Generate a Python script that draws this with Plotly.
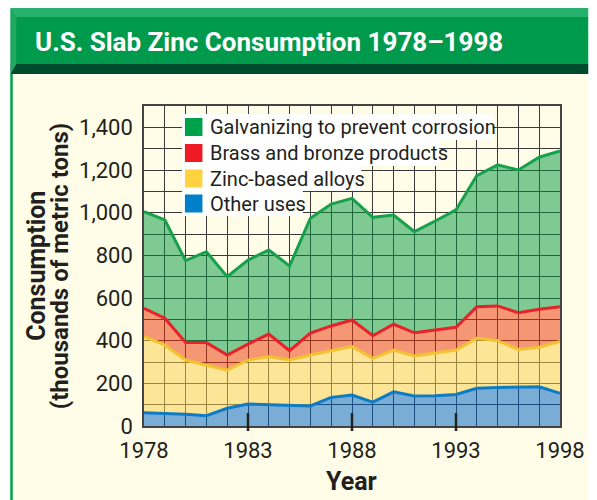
import plotly.graph_objects as go

years = list(range(1978, 1999))
other_uses = [62, 59, 55, 48, 83, 103, 100, 95, 94, 134, 145, 112, 160, 141, 142, 148, 177, 181, 184, 184, 153]
zinc_alloys = [357, 321, 254, 238, 179, 206, 225, 214, 239, 219, 227, 205, 196, 187, 199, 208, 234, 219, 175, 185, 243]
brass_bronze = [133, 125, 82, 105, 71, 75, 106, 44, 102, 116, 125, 106, 121, 109, 109, 107, 148, 163, 172, 178, 163]
galvanizing = [453, 461, 384, 426, 367, 394, 394, 397, 539, 571, 570, 555, 512, 474, 511, 550, 615, 661, 669, 713, 730]

x_tick_years = [1978, 1983, 1988, 1993, 1998]
y_tick_vals = [0, 200, 400, 600, 800, 1000, 1200, 1400]
legend_labels = ["Galvanizing to prevent corrosion", "Brass and bronze products",
                 "Zinc-based alloys", "Other uses"]

W, H = 597, 500
L, R, T, B = 144, 26, 106, 74
PW, PH = W - L - R, H - T - B

def px(xp):
    return (xp - L) / PW

def py(yp):
    return (H - B - yp) / PH

TXT = "#231F20"
FONT = "Roboto, Liberation Sans, sans-serif"

series = [
    ("Other uses", other_uses, "#0E7CC4", "rgba(0,100,195,0.52)"),
    ("Zinc-based alloys", zinc_alloys, "#F2C233", "rgba(252,205,70,0.5)"),
    ("Brass and bronze products", brass_bronze, "#E8222A", "rgba(235,50,0,0.5)"),
    ("Galvanizing to prevent corrosion", galvanizing, "#16A04C", "rgba(0,150,60,0.5)"),
]

fig = go.Figure()
for name, vals, lc, fc in series:
    fig.add_trace(go.Scatter(x=years, y=vals, name=name, mode="lines", stackgroup="one",
                             line=dict(color=lc, width=3), fillcolor=fc, showlegend=False))

shapes = []
shapes.append(dict(type="rect", xref="paper", yref="paper", x0=px(7), x1=px(600), y0=py(74), y1=py(500),
                   fillcolor="#FFFDE8", line=dict(width=0), layer="below"))
shapes.append(dict(type="rect", xref="paper", yref="paper", x0=px(7), x1=px(600), y0=py(17), y1=py(8),
                   fillcolor="#26B16C", line=dict(width=0), layer="below"))
shapes.append(dict(type="rect", xref="paper", yref="paper", x0=px(7), x1=px(600), y0=py(64), y1=py(17),
                   fillcolor="#009A4D", line=dict(width=0), layer="below"))
shapes.append(dict(type="rect", xref="paper", yref="paper", x0=px(7), x1=px(600), y0=py(74), y1=py(64),
                   fillcolor="#004A2E", line=dict(width=0), layer="below"))
shapes.append(dict(type="path", xref="paper", yref="paper",
                   path=f"M {px(7)},{py(8)} L {px(13)},{py(17)} L {px(13)},{py(64)} L {px(7)},{py(74)} Z",
                   fillcolor="#1FA862", line=dict(width=0), layer="below"))
shapes.append(dict(type="line", xref="paper", yref="paper", x0=px(8), x1=px(8), y0=py(74), y1=py(500),
                   line=dict(color="#00A14B", width=2.5), layer="below"))
for yr in [1983, 1988, 1993]:
    shapes.append(dict(type="line", xref="x", yref="paper", x0=yr, x1=yr, y0=py(431), y1=py(413),
                       line=dict(color="#222222", width=2.5), layer="above"))

row_tops = [114, 140, 166, 191]
row_h = [26, 26, 25, 25]
box_right = [502, 447, 367, 307]
sw_colors = ["#00A14B", "#ED1C24", "#FFD23F", "#0080C8"]
annotations = []
for i, lab in enumerate(legend_labels):
    y0, y1 = row_tops[i], row_tops[i] + row_h[i]
    shapes.append(dict(type="rect", xref="paper", yref="paper", x0=px(183), x1=px(box_right[i]),
                       y0=py(y1), y1=py(y0), fillcolor="white", line=dict(width=0), layer="above"))
    cy = (y0 + y1) / 2
    shapes.append(dict(type="rect", xref="paper", yref="paper", x0=px(186), x1=px(204),
                       y0=py(cy + 9), y1=py(cy - 9), fillcolor=sw_colors[i], line=dict(width=0), layer="above"))
    annotations.append(dict(text=lab, xref="paper", yref="paper", x=px(210), y=py(cy), xanchor="left",
                            yanchor="middle", showarrow=False, font=dict(family=FONT, size=20, color=TXT)))

annotations.append(dict(text="<b>U.S. Slab Zinc Consumption 1978\u20131998</b>", xref="paper", yref="paper",
                        x=px(272), y=py(42), xanchor="center", yanchor="middle", showarrow=False,
                        font=dict(family=FONT, size=26, color="white")))
annotations.append(dict(text="<b>Consumption</b>", xref="paper", yref="paper",
                        x=px(33), y=py(266), xanchor="center", yanchor="middle", textangle=-90,
                        showarrow=False, font=dict(family=FONT, size=25, color=TXT)))
annotations.append(dict(text="<b>(thousands of metric tons)</b>", xref="paper", yref="paper",
                        x=px(58), y=py(266), xanchor="center", yanchor="middle", textangle=-90,
                        showarrow=False, font=dict(family=FONT, size=24, color=TXT)))
annotations.append(dict(text="<b>Year</b>", xref="paper", yref="paper", x=px(357), y=py(481),
                        xanchor="center", yanchor="middle", showarrow=False,
                        font=dict(family=FONT, size=25, color=TXT)))

fig.update_layout(
    width=W, height=H, margin=dict(l=L, r=R, t=T, b=B),
    paper_bgcolor="white", plot_bgcolor="white",
    shapes=shapes, annotations=annotations, showlegend=False,
    font=dict(family=FONT, color=TXT),
)
fig.update_xaxes(range=[1978, 1998], tickvals=x_tick_years, ticks="", showgrid=True,
                 gridcolor="#3A3A3A", gridwidth=1, minor=dict(dtick=1, showgrid=True, gridcolor="#3A3A3A", gridwidth=1),
                 showline=True, linecolor="#444444", linewidth=1.5, mirror=True, zeroline=False,
                 tickfont=dict(family=FONT, size=22, color=TXT), ticklabelstandoff=4)
fig.update_yaxes(range=[0, 1500], tickvals=y_tick_vals, tickformat=",", ticks="", showgrid=True,
                 gridcolor="#3A3A3A", gridwidth=1, minor=dict(dtick=100, showgrid=True, gridcolor="#3A3A3A", gridwidth=1),
                 showline=True, linecolor="#444444", linewidth=1.5, mirror=True, zeroline=False,
                 tickfont=dict(family=FONT, size=22, color=TXT), ticklabelstandoff=5)

fig.write_html("out.html", config={"displayModeBar": False},
               post_script="document.body.style.margin='0px';"
                           "document.body.style.overflow='hidden';"
                           "document.documentElement.style.overflow='hidden';")
